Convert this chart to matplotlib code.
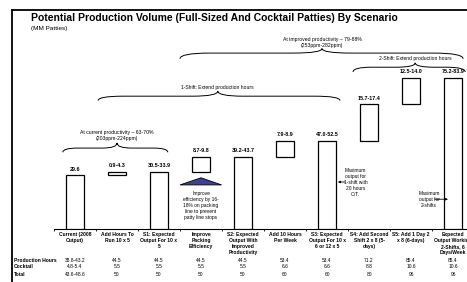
import numpy as np
import matplotlib.pyplot as plt
from matplotlib.path import Path
from matplotlib.patches import PathPatch, Polygon
from matplotlib.lines import Line2D
from matplotlib.transforms import blended_transform_factory

plt.rcParams['font.family'] = ['Liberation Sans', 'DejaVu Sans']

categories = [
    "Current (2008\nOutput)",
    "Add Hours To\nRun 10 x 5",
    "S1: Expected\nOutput For 10 x\n5",
    "Improve\nPacking\nEfficiency",
    "S2: Expected\nOutput With\nImproved\nProductivity",
    "Add 10 Hours\nPer Week",
    "S3: Expected\nOutput For 10 x\n6 or 12 x 5",
    "S4: Add Second\nShift 2 x 8 (5-\ndays)",
    "S5: Add 1 Day 2\nx 8 (6-days)",
    "Expected\nOutput Working\n2-Shifts, 6\nDays/Week",
]
bar_labels = ["29.6", "0.9-4.3", "30.5-33.9", "8.7-9.8", "39.2-43.7",
              "7.9-8.9", "47.0-52.5", "15.7-17.4", "12.5-14.0", "75.2-83.9"]
bar_bottom = [0, 29.6, 0, 31.4, 0, 39.6, 0, 48.3, 68.2, 0]
bar_top = [29.6, 31.4, 31.4, 39.6, 39.6, 48.3, 48.3, 68.2, 82.7, 82.7]

row_names = ["Production Hours", "Cocktail", "Total"]
prod_hours = ["38.8-43.2", "44.5", "44.5", "44.5", "44.5", "53.4", "53.4", "71.2", "85.4", "85.4"]
cocktail = ["4.8-5.4", "5.5", "5.5", "5.5", "5.5", "6.6", "6.6", "8.8", "10.6", "10.6"]
total = ["43.6-48.6", "50", "50", "50", "50", "60", "60", "80", "96", "96"]

W, H = 467, 282
fig = plt.figure(figsize=(W / 100, H / 100), dpi=100)
ax = fig.add_axes([54 / W, (H - 229.3) / H, 420 / W, 219.3 / H])
ax.set_xlim(-0.5, 9.5)
ax.set_ylim(0, 119.6)
for s in ['left', 'right', 'top']:
    ax.spines[s].set_visible(False)
ax.spines['bottom'].set_linewidth(0.8)
ax.set_yticks([])

x = np.arange(len(categories))
heights = np.array(bar_top) - np.array(bar_bottom)
ax.bar(x, heights, bottom=bar_bottom, width=0.41, color='white',
       edgecolor='black', linewidth=0.9, zorder=3)
for xi, top, lab in zip(x, bar_top, bar_labels):
    ax.annotate(lab, (xi, top), xytext=(0, 4.3), textcoords='offset points',
                ha='center', va='center', fontsize=3.9, fontweight='bold')

ax.set_xticks(np.arange(-0.5, 10, 1))
ax.set_xticklabels([])
ax.tick_params(axis='x', which='major', length=1.5, width=0.6, direction='out')
ax.set_xticks(x, minor=True)
ax.set_xticklabels(categories, minor=True, fontsize=3.6, fontweight='bold',
                   linespacing=1.25, va='top')
ax.tick_params(axis='x', which='minor', length=0, pad=2.0)


def brace(x0, x1, xc, yl, ye, yc, d=0.45):
    verts = [(x0, ye), (x0, yl), (x0 + d, yl),
             (xc - d, yl), (xc, yl), (xc, yc),
             (xc, yl), (xc + d, yl),
             (x1 - d, yl), (x1, yl), (x1, ye)]
    codes = [Path.MOVETO, Path.CURVE3, Path.CURVE3,
             Path.LINETO, Path.CURVE3, Path.CURVE3,
             Path.CURVE3, Path.CURVE3,
             Path.LINETO, Path.CURVE3, Path.CURVE3]
    ax.add_patch(PathPatch(Path(verts, codes), fill=False, lw=0.7,
                           edgecolor='black', clip_on=False))


brace(-0.29, 2.21, 1.0, 44.3, 42.0, 47.1, d=0.35)
ax.text(1.0, 51.2, "At current productivity \u2013 63-70%\n(203ppm-224ppm)",
        ha='center', va='center', fontsize=3.7, linespacing=1.15)

brace(0.55, 6.31, 3.4, 72.6, 70.2, 75.4, d=0.6)
ax.text(3.4, 77.3, "1-Shift: Extend production hours",
        ha='center', va='center', fontsize=3.6)

brace(2.5, 9.24, 5.88, 96.1, 93.0, 98.6, d=0.7)
ax.text(5.88, 102.0, "At improved productivity \u2013 79-88%\n(253ppm-282ppm)",
        ha='center', va='center', fontsize=3.7, linespacing=1.15)

brace(6.62, 9.29, 8.1, 88.4, 85.8, 90.8, d=0.45)
ax.text(8.1, 93.0, "2-Shift: Extend production hours",
        ha='center', va='center', fontsize=3.6)

# arrow under the packing efficiency step
ax.add_patch(Polygon([(2.5, 24.2), (3.0, 28.1), (3.49, 24.2)], closed=True,
                     facecolor='#3f3f94', edgecolor='black', lw=0.6, zorder=3))
ax.text(3.0, 12.9, "Improve\nefficiency by 16-\n18% on packing\nline to prevent\npatty line stops",
        ha='center', va='center', fontsize=3.5, linespacing=1.25)

ax.text(6.68, 25.4, "Maximum\noutput for\n1-shift with\n20 hours\nO.T.",
        ha='center', va='center', fontsize=3.5, linespacing=1.25)
ax.annotate("", xy=(6.26, 25.8), xytext=(6.43, 25.8),
            arrowprops=dict(arrowstyle='-|>', lw=0.6, color='black',
                            mutation_scale=3, shrinkA=0, shrinkB=0))
ax.text(8.43, 16.3, "Maximum\noutput for\n2-shifts",
        ha='center', va='center', fontsize=3.5, linespacing=1.25)
ax.annotate("", xy=(8.88, 16.4), xytext=(8.57, 16.4),
            arrowprops=dict(arrowstyle='-|>', lw=0.6, color='black',
                            mutation_scale=3, shrinkA=0, shrinkB=0))

# table rows under the chart
tr = blended_transform_factory(ax.transData, fig.transFigure)
for j, (name, vals) in enumerate(zip(row_names, [prod_hours, cocktail, total])):
    yy = (H - (260 + 7 * j)) / H
    fig.text(14 / W, yy, name, ha='left', va='center', fontsize=3.6, fontweight='bold')
    for xi, v in zip(x, vals):
        ax.text(xi, yy, v, transform=tr, ha='center', va='center',
                fontsize=3.5, clip_on=False)

# slide frame
fig.add_artist(Line2D([12 / W, 12 / W], [0, (H - 10) / H], color='black', lw=1.3))
fig.add_artist(Line2D([12 / W, 1], [(H - 10) / H, (H - 10) / H], color='black', lw=1.3))

fig.text(31 / W, (H - 18) / H,
         "Potential Production Volume (Full-Sized And Cocktail Patties) By Scenario",
         ha='left', va='center', fontsize=7.5, fontweight='bold')
fig.text(31 / W, (H - 28.5) / H, "(MM Patties)", ha='left', va='center', fontsize=4.6)

fig.savefig('out.png', dpi=100)
